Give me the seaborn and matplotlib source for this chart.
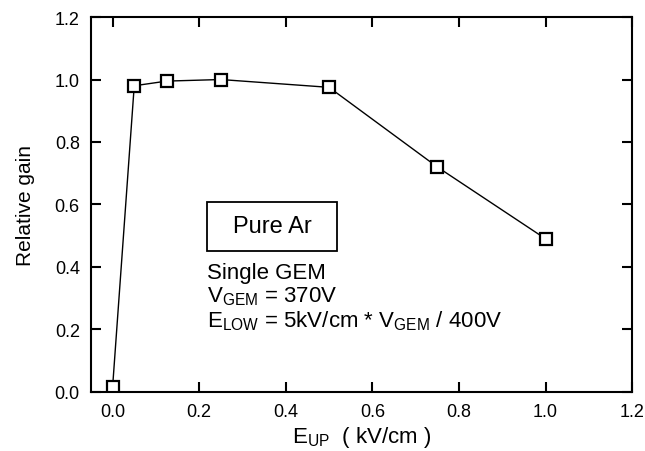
import matplotlib
matplotlib.use("Agg")
import matplotlib.pyplot as plt
import matplotlib.patches as mpatches
import seaborn as sns
import pandas as pd

field_up = [0.0, 0.05, 0.125, 0.25, 0.5, 0.75, 1.0]
rel_gain = [0.015, 0.98, 0.995, 1.0, 0.975, 0.72, 0.49]
x_ticks = [0.0, 0.2, 0.4, 0.6, 0.8, 1.0, 1.2]
y_ticks = [0.0, 0.2, 0.4, 0.6, 0.8, 1.0, 1.2]

sns.set_theme(style="ticks")
plt.rcParams['font.family'] = ['Liberation Sans', 'DejaVu Sans']
plt.rcParams['mathtext.fontset'] = 'custom'
plt.rcParams['mathtext.rm'] = 'Liberation Sans'
plt.rcParams['text.color'] = 'black'
plt.rcParams['axes.labelcolor'] = 'black'

df = pd.DataFrame({"x": field_up, "y": rel_gain})

fig = plt.figure(figsize=(6.45, 4.52), dpi=100)
ax = fig.add_axes([0.141, 0.131, 0.839, 0.829])
sns.lineplot(data=df, x="x", y="y", ax=ax, color="black", linewidth=1.0,
             marker="s", markersize=8, markerfacecolor="white",
             markeredgecolor="black", markeredgewidth=1.6)

ax.set_xlim(-0.05, 1.2)
ax.set_ylim(0.0, 1.2)
ax.set_xticks(x_ticks)
ax.set_yticks(y_ticks)
ax.set_xticklabels([f"{v:.1f}" for v in x_ticks])
ax.set_yticklabels([f"{v:.1f}" for v in y_ticks])
ax.tick_params(direction="in", length=7, width=1.5, top=True, right=True,
               labelsize=13, colors="black", pad=8)
for s in ax.spines.values():
    s.set_linewidth(1.5)
    s.set_color("black")
ax.set_xlabel(r"E$_{\rm UP}$  ( kV/cm )", fontsize=16, color="black", labelpad=3)
ax.set_ylabel("Relative gain", fontsize=15, color="black", labelpad=14)

ax.add_patch(mpatches.Rectangle((0.219, 0.451), 0.30, 0.157, facecolor="white",
                                edgecolor="black", linewidth=1.3, zorder=3))
ax.text(0.369, 0.531, "Pure Ar", fontsize=17, ha="center", va="center", zorder=4)
ax.text(0.219, 0.365, "Single GEM", fontsize=16, ha="left", va="baseline")
ax.text(0.219, 0.288, r"V$_{\rm GEM}$ = 370V", fontsize=16, ha="left", va="baseline")
ax.text(0.219, 0.211, r"E$_{\rm LOW}$ = 5kV/cm * V$_{\rm GEM}$ / 400V", fontsize=16,
        ha="left", va="baseline")

fig.savefig("out.png", dpi=100)
